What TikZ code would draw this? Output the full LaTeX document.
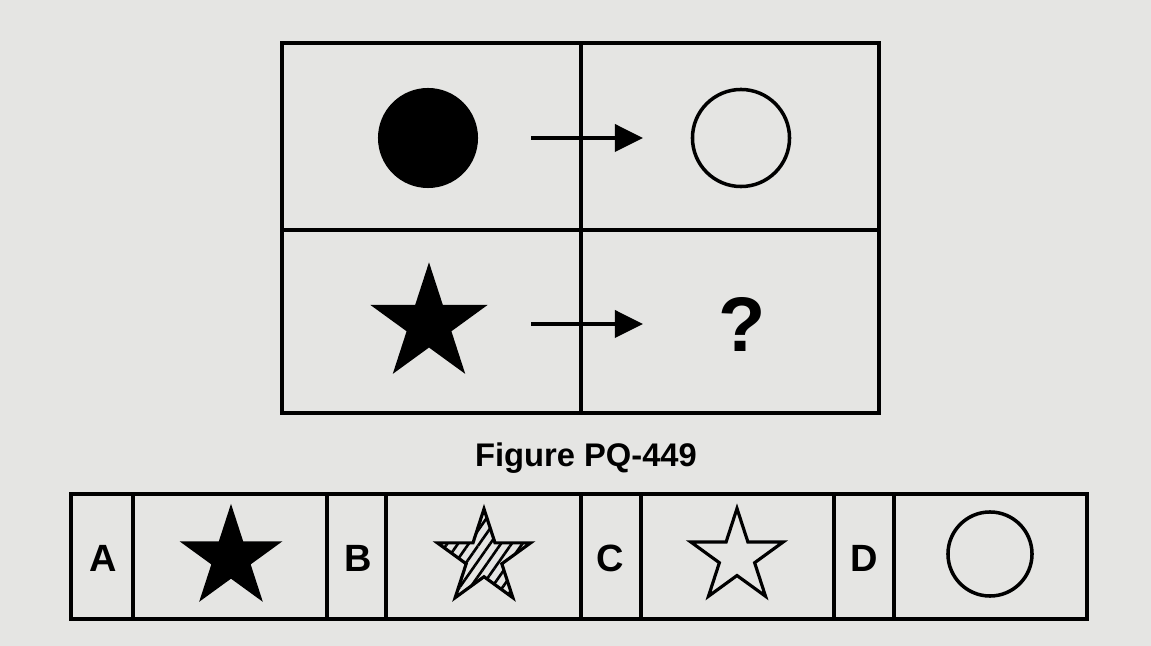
\documentclass[tikz,border=0pt]{standalone}
\usepackage{fontspec}
\setmainfont{Liberation Sans}
\usetikzlibrary{shapes.geometric,arrows.meta,patterns.meta}
\definecolor{paper}{RGB}{229,229,227}
\begin{document}
\begin{tikzpicture}[x=.01cm, y=-.01cm, line width=1pt,
  arr/.style={-{Triangle[length=.28cm,width=.27cm]}, line width=1.1pt},
  pstar/.style={star, star points=5, star point ratio=2.618, inner sep=0pt, draw, line width=.9pt},
  lab/.style={font=\fontsize{10.8}{10.8}\selectfont\bfseries, anchor=base}]
\fill[paper] (0,0) rectangle (1151,646);
\useasboundingbox (0,0) rectangle (1151,646);
% top grid
\draw (282,43) rectangle (879,413);
\draw (581,43)--(581,413);
\draw (282,230)--(879,230);
\node[circle, fill, minimum size=1cm, inner sep=0pt] (fc) at (428,138) {};
\node[circle, draw, minimum size=.97cm, inner sep=0pt] (oc) at (741,138) {};
\node[pstar, fill, minimum size=1.13cm] (fs) at (429,324) {};
\node[font=\fontsize{22}{22}\selectfont\bfseries] (qm) at (742,324) {?};
\draw[arr, shorten <=1.03cm, shorten >=.98cm] (fc.center)--(oc.center);
\draw[arr, shorten <=1.02cm, shorten >=.99cm] (fs.center)--(qm.center);

\node[font=\fontsize{9.3}{9.3}\selectfont\bfseries, anchor=base] (cap) at (586,467) {Figure PQ-449};

% answers
\draw (71,494) rectangle (1087,619);
\foreach \x in {133,327,386,581,641,834,894} \draw (\x,494)--(\x,619);
\node[lab] (la) at (103,572) {A};
\node[lab] (lb) at (358,572) {B};
\node[lab] (lc) at (610,572) {C};
\node[lab] (ld) at (864,572) {D};
\node[pstar, fill, minimum size=.98cm] (sa) at (231,558) {};
\node[pstar, pattern={Lines[angle=55,distance=2.5pt,line width=.75pt]}, minimum size=.98cm] (sb) at (484,558) {};
\node[pstar, minimum size=.97cm] (sc) at (737,557) {};
\node[circle, draw, minimum size=.84cm, inner sep=0pt] (cd) at (990,554) {};
\end{tikzpicture}
\end{document}
